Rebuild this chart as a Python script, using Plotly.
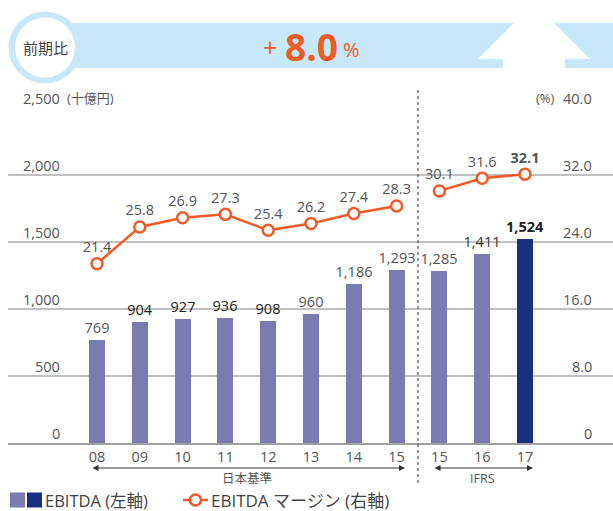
import plotly.graph_objects as go

# ---------------- data ----------------
years = ["08", "09", "10", "11", "12", "13", "14", "15", "15", "16", "17"]
ebitda = [769, 904, 927, 936, 908, 960, 1186, 1293, 1285, 1411, 1524]
margin_jgaap = [21.4, 25.8, 26.9, 27.3, 25.4, 26.2, 27.4, 28.3]
margin_ifrs = [30.1, 31.6, 32.1]
left_ticks = [0, 500, 1000, 1500, 2000, 2500]
left_tick_labels = ["0", "500", "1,000", "1,500", "2,000", "2,500"]
right_ticks = [0, 8, 16, 24, 32, 40]
right_tick_labels = ["0", "8.0", "16.0", "24.0", "32.0", "40.0"]
yoy_value = "8.0"

# ---------------- style ----------------
W, H = 613, 511
PL, PR, PT, PB = 8, 613, 108, 443
X0_PX, STEP_PX = 97, 42.8
BAR_LIGHT = "#7b7bb1"
BAR_DARK = "#1b2f80"
ORANGE = "#f05a24"
BLUE_BG = "#c7e8f8"
TXT = "#555555"
FONT = "Open Sans, Noto Sans CJK JP, sans-serif"


def px_x(px):
    return (px - PL) / (PR - PL)


def px_y(py):
    return (PB - py) / (PB - PT)


def px_to_idx(px):
    return (px - X0_PX) / STEP_PX


def label(text, x, y, xref="paper", yref="paper", xanchor="center", size=14.5, color=TXT, **kw):
    return dict(text=text, x=x, y=y, xref=xref, yref=yref, xanchor=xanchor, yanchor="middle",
                showarrow=False, font=dict(size=size, color=color, family=FONT), **kw)


idx = list(range(len(years)))
idx_j = idx[:len(margin_jgaap)]
idx_i = idx[len(margin_jgaap):]

bar_colors = [BAR_LIGHT] * (len(ebitda) - 1) + [BAR_DARK]
bar_weights = [400, 400, 400, 400, 400, 400, 400, 400, 400, 400, 700]
bar_text_colors = ["#555555", "#222222", "#222222", "#222222", "#222222", "#555555",
                   "#555555", "#555555", "#555555", "#333333", "#222222"]

fig = go.Figure()

fig.add_trace(go.Bar(
    x=idx, y=ebitda, width=0.37,
    marker=dict(color=bar_colors, line=dict(width=0)),
    text=[f"{v:,}" for v in ebitda], textposition="outside", constraintext="none",
    textfont=dict(size=14.5, color=bar_text_colors, family=FONT, weight=bar_weights),
    cliponaxis=False, showlegend=False, hoverinfo="skip",
))

for xs, ys, weights in ((idx_j, margin_jgaap, [400] * len(margin_jgaap)),
                        (idx_i, margin_ifrs, [400, 400, 700])):
    fig.add_trace(go.Scatter(
        x=xs, y=ys, yaxis="y2", mode="lines+markers+text",
        line=dict(color=ORANGE, width=2.5),
        marker=dict(size=11, color="white", line=dict(color=ORANGE, width=2.5)),
        text=[f"{v:.1f}" for v in ys], textposition="top center",
        textfont=dict(size=14.5, color=TXT, family=FONT, weight=weights),
        cliponaxis=False, showlegend=False, hoverinfo="skip",
    ))

shapes = []
annotations = []

# banner background
shapes.append(dict(type="path", xref="paper", yref="paper",
                   path=(f"M {px_x(45)} {px_y(23)} L {px_x(514)} {px_y(23)} L {px_x(478)} {px_y(59)} "
                         f"L {px_x(503)} {px_y(59)} L {px_x(503)} {px_y(68)} L {px_x(45)} {px_y(68)} Z"),
                   fillcolor=BLUE_BG, line=dict(width=0), layer="below"))
shapes.append(dict(type="path", xref="paper", yref="paper",
                   path=(f"M {px_x(554)} {px_y(23)} L {px_x(613)} {px_y(23)} L {px_x(613)} {px_y(68)} "
                         f"L {px_x(565)} {px_y(68)} L {px_x(565)} {px_y(59)} L {px_x(590)} {px_y(59)} Z"),
                   fillcolor=BLUE_BG, line=dict(width=0), layer="below"))
# circle badge
cx, cy = 45, 47.5
shapes.append(dict(type="circle", xref="paper", yref="paper",
                   x0=px_x(cx - 36.5), x1=px_x(cx + 36.5), y0=px_y(cy + 36), y1=px_y(cy - 36),
                   fillcolor=BLUE_BG, line=dict(width=0), layer="below"))
shapes.append(dict(type="circle", xref="paper", yref="paper",
                   x0=px_x(cx - 30), x1=px_x(cx + 30), y0=px_y(cy + 30), y1=px_y(cy - 30),
                   fillcolor="white", line=dict(width=0), layer="below"))

annotations.append(label("前期比", px_x(cx), px_y(cy), size=15, color="#444444"))
annotations.append(label("+", px_x(270), px_y(47), size=25, color=ORANGE))
annotations.append(label(f"<b>{yoy_value}</b>", px_x(311), px_y(46), size=37, color=ORANGE))
annotations.append(label("%", px_x(351), px_y(50), size=20, color=ORANGE))

# y tick labels (above gridlines)
for v, lab in zip(left_ticks, left_tick_labels):
    annotations.append(label(lab, px_x(62), v, yref="y", xanchor="right", yshift=10))
annotations.append(label("(十億円)", px_x(65), left_ticks[-1], yref="y", xanchor="left", size=13, yshift=10))
for v, lab in zip(right_ticks, right_tick_labels):
    annotations.append(label(lab, px_x(594), v, yref="y2", xanchor="right", yshift=10))
annotations.append(label("(%)", px_x(557), right_ticks[-1], yref="y2", xanchor="right", size=13, yshift=10))

# dashed separator
sep = (len(margin_jgaap) - 1 + len(margin_jgaap)) / 2
shapes.append(dict(type="line", xref="x", yref="paper", x0=sep, x1=sep,
                   y0=px_y(483), y1=px_y(88), line=dict(color="#333333", width=1, dash="dot")))

# standard arrows
arrow_y = px_y(468)
for (a, b) in ((px_to_idx(91), px_to_idx(405)), (px_to_idx(433), px_to_idx(533))):
    annotations.append(dict(text="", x=b, y=arrow_y, xref="x", yref="paper",
                            ax=a, ay=0, axref="x", ayref="pixel", showarrow=True,
                            arrowside="end+start", arrowhead=2, arrowsize=1.2, arrowwidth=1,
                            arrowcolor="#333333"))
annotations.append(label("日本基準", (idx_j[0] + idx_j[-1]) / 2, px_y(478), xref="x", size=12.5))
annotations.append(label("IFRS", (idx_i[0] + idx_i[-1]) / 2, px_y(478), xref="x", size=12.5))

# legend
ly = 500
shapes.append(dict(type="rect", xref="paper", yref="paper", x0=px_x(10), x1=px_x(25),
                   y0=px_y(ly + 7.5), y1=px_y(ly - 7.5), fillcolor=BAR_LIGHT, line=dict(width=0)))
shapes.append(dict(type="rect", xref="paper", yref="paper", x0=px_x(27), x1=px_x(42),
                   y0=px_y(ly + 7.5), y1=px_y(ly - 7.5), fillcolor=BAR_DARK, line=dict(width=0)))
annotations.append(label("EBITDA (左軸)", px_x(43), px_y(ly), xanchor="left", size=16.5, color="#444444"))
shapes.append(dict(type="line", xref="paper", yref="paper", x0=px_x(183), x1=px_x(208),
                   y0=px_y(ly), y1=px_y(ly), line=dict(color=ORANGE, width=2.5)))
shapes.append(dict(type="circle", xref="paper", yref="paper", x0=px_x(190), x1=px_x(201),
                   y0=px_y(ly + 5.5), y1=px_y(ly - 5.5), fillcolor="white", line=dict(color=ORANGE, width=2.5)))
annotations.append(label("EBITDA マージン (右軸)", px_x(209), px_y(ly), xanchor="left", size=17,
                         color="#444444"))

fig.update_layout(
    width=W, height=H,
    margin=dict(l=PL, r=W - PR, t=PT, b=H - PB, pad=0),
    paper_bgcolor="white", plot_bgcolor="white",
    font=dict(family=FONT, color=TXT),
    bargap=0,
    xaxis=dict(range=[px_to_idx(PL), px_to_idx(PR)], tickvals=idx, ticktext=years,
               showgrid=False, zeroline=False, showline=True, linecolor="#a0a0a0", linewidth=2,
               ticks="", tickfont=dict(size=14.5, color=TXT, family=FONT), fixedrange=True),
    yaxis=dict(range=[left_ticks[0], left_ticks[-1]], tickvals=left_ticks, showticklabels=False,
               showgrid=True, gridcolor="#c0c0c0", gridwidth=1.5, zeroline=False, fixedrange=True),
    yaxis2=dict(range=[right_ticks[0], right_ticks[-1]], overlaying="y", side="right",
                showgrid=False, showticklabels=False, zeroline=False, fixedrange=True),
    shapes=shapes, annotations=annotations,
)

fig.write_html("out.html", config={"displayModeBar": False},
               post_script="document.body.style.margin='0';document.body.style.overflow='hidden';")
